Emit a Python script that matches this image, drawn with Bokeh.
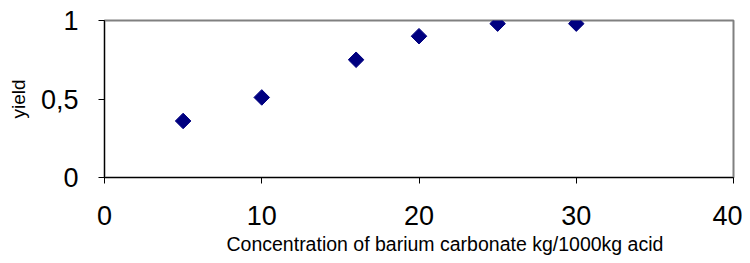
from bokeh.plotting import figure
from bokeh.embed import file_html
from bokeh.resources import INLINE
from bokeh.models import Range1d, FixedTicker, Title
import math

conc = [5, 10, 16, 20, 25, 30]
yield_vals = [0.36, 0.51, 0.75, 0.90, 0.98, 0.98]
x_ticks = [0, 10, 20, 30, 40]
y_ticks = [0, 0.5, 1]
y_tick_labels = {0: "0", 0.5: "0,5", 1: "1"}
x_title = "Concentration of barium carbonate kg/1000kg acid"
y_title = "yield"

p = figure(frame_width=629, frame_height=157, output_backend="svg", toolbar_location=None,
           x_range=Range1d(0, 40), y_range=Range1d(0, 1),
           min_border_left=104, min_border_right=9, min_border_top=20, min_border_bottom=20)

p.scatter(conc, yield_vals, marker="square", size=11, angle=math.pi / 4,
          fill_color="#000080", line_color="#000080")

p.xgrid.visible = False
p.ygrid.visible = False
p.outline_line_color = "#808080"
p.outline_line_width = 2

FONT = "Liberation Sans"
for ax in (p.xaxis[0], p.yaxis[0]):
    ax.axis_line_color = "black"
    ax.axis_line_width = 1
    ax.major_tick_line_color = "black"
    ax.major_tick_in = 0
    ax.major_tick_out = 6
    ax.minor_tick_line_color = None
    ax.major_label_text_font = FONT
    ax.major_label_text_font_size = "27px"
    ax.major_label_text_color = "black"
    ax.axis_label_text_font = FONT
    ax.axis_label_text_font_style = "normal"
    ax.axis_label_text_color = "black"

p.xaxis[0].ticker = FixedTicker(ticks=x_ticks)
p.yaxis[0].ticker = FixedTicker(ticks=y_ticks)
p.yaxis[0].major_label_overrides = {k: v for k, v in y_tick_labels.items()}
p.xaxis[0].major_label_standoff = 22
p.yaxis[0].major_label_standoff = 20
p.yaxis[0].axis_label = y_title
p.yaxis[0].axis_label_text_font_size = "19px"
p.yaxis[0].axis_label_standoff = 9

p.add_layout(Title(text=x_title, align="left", offset=122, standoff=6,
                   text_font=FONT, text_font_size="19.5px", text_font_style="normal",
                   text_color="black"), "below")

open("out.html", "w").write(file_html(p, INLINE))
